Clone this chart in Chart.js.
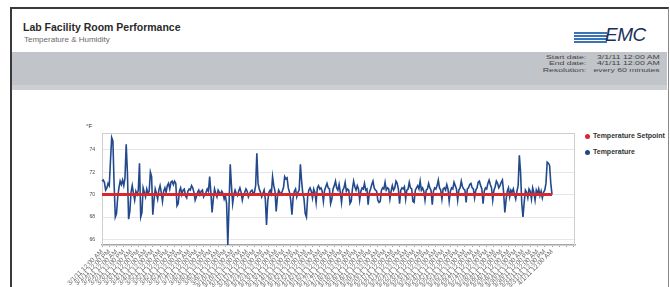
<!DOCTYPE html>
<html>
<head>
<meta charset="utf-8">
<script src="https://cdn.jsdelivr.net/npm/chart.js@4.4.0/dist/chart.umd.min.js"></script>
<style>
  html, body { margin: 0; padding: 0; width: 670px; height: 287px; overflow: hidden; background: #fff; font-family: "Liberation Sans", Arial, sans-serif; }
  #frame { position: absolute; left: 10px; top: 7px; width: 656px; height: 300px; border-top: 2px solid #3a3a3a; border-left: 2px solid #3a3a3a; border-right: 1px solid #8a8a8a; }
  #title { position: absolute; left: 23px; top: 21px; font-size: 10.5px; font-weight: bold; color: #2a2a2a; }
  #subtitle { position: absolute; left: 24px; top: 35px; font-size: 8px; color: #6a6a6a; }
  #band { position: absolute; left: 12px; top: 52px; width: 655px; height: 33px; background: #c1c5c9; }
  #band2 { position: absolute; left: 12px; top: 85px; width: 655px; height: 5px; background: #cdd0d3; }
  #meta { position: absolute; right: 10px; top: 54px; font-size: 6px; color: #444; line-height: 6.3px; transform: scaleX(1.45); transform-origin: right top; }
  #meta td { padding: 0 0 0 5px; white-space: nowrap; text-align: right; }
  #logo { position: absolute; left: 574px; top: 27px; width: 80px; height: 18px; }
  .stripe { position: absolute; left: 0; height: 2px; width: 33px; background: #3a74b4; }
  #emc { position: absolute; left: 31px; top: -3px; font-size: 19px; font-style: italic; color: #1c2f5c; letter-spacing: -0.5px; }
  #unit { position: absolute; left: 86px; top: 123px; font-size: 6px; color: #333; }
  #legend { position: absolute; left: 584px; top: 132px; font-size: 7px; font-weight: bold; color: #333; }
  .li { position: relative; height: 16px; padding-left: 9px; line-height: 8px; white-space: nowrap; }
  .dot { position: absolute; left: 1px; top: 2px; width: 5px; height: 5px; border-radius: 50%; }
  #cv { position: absolute; left: 0; top: 100px; }
</style>
</head>
<body>
<div id="frame"></div>
<div id="title">Lab Facility Room Performance</div>
<div id="subtitle">Temperature &amp; Humidity</div>
<div id="logo">
  <div class="stripe" style="top:5px"></div>
  <div class="stripe" style="top:8px"></div>
  <div class="stripe" style="top:11px"></div>
  <div class="stripe" style="top:14px"></div>
  <div id="emc">EMC</div>
</div>
<div id="band"></div>
<div id="band2"></div>
<table id="meta" cellspacing="0" cellpadding="0">
  <tr><td>Start date:</td><td>3/1/11 12:00 AM</td></tr>
  <tr><td>End date:</td><td>4/1/11 12:00 AM</td></tr>
  <tr><td>Resolution:</td><td>every 60 minutes</td></tr>
</table>
<div id="unit">°F</div>
<div id="legend">
  <div class="li"><span class="dot" style="background:#d9272e"></span>Temperature Setpoint</div>
  <div class="li"><span class="dot" style="background:#1f4585"></span>Temperature</div>
</div>
<canvas id="cv" width="670" height="200"></canvas>
<script>
// Temperature readings (°F), one value every 2 hours, 3/1/11 - 4/1/11
const temperature = [
  71.2, 71.3, 71.1, 70.4, 70.6, 71.0, 70.8, 73.0, 75.1, 74.8,
  71.0, 68.0, 68.3, 69.8, 70.6, 71.2, 70.9, 71.3, 70.8, 71.5,
  74.5, 72.0, 67.8, 68.5, 70.2, 70.8, 70.1, 69.5, 70.3, 70.0,
  70.4, 72.8, 68.0, 68.4, 70.6, 70.2, 69.8, 70.5, 70.1, 70.3,
  72.0, 71.6, 68.2, 69.5, 70.5, 70.1, 69.6, 70.4, 70.8, 70.2,
  69.4, 70.3, 70.6, 70.2, 70.8, 71.0, 70.5, 71.1, 71.2, 70.9,
  71.2, 71.0, 69.0, 69.2, 70.3, 70.6, 70.0, 70.4, 70.5, 69.9,
  69.7, 70.3, 70.5, 70.4, 70.8, 70.6, 70.2, 69.5, 69.8, 70.2,
  70.4, 70.0, 70.3, 70.4, 69.8, 70.0, 70.2, 70.5, 70.3, 71.6,
  70.2, 68.4, 69.6, 70.5, 70.1, 69.8, 70.4, 70.2, 70.0, 70.3,
  70.1, 69.6, 69.9, 69.2, 65.5, 69.0, 72.7, 70.8, 69.2, 70.0,
  70.4, 70.1, 69.9, 70.3, 70.6, 70.2, 69.5, 70.0, 70.2, 70.5,
  70.3, 69.8, 70.1, 70.3, 70.4, 70.1, 70.2, 70.8, 73.7, 71.0,
  70.5, 70.2, 69.8, 70.1, 70.4, 69.6, 67.3, 69.4, 70.2, 70.4,
  70.1, 71.6, 70.8, 70.3, 68.5, 69.8, 70.4, 70.2, 70.0, 70.3,
  70.6, 71.6, 71.4, 71.5, 70.6, 70.2, 69.5, 68.2, 69.7, 70.3,
  70.5, 69.8, 70.2, 70.4, 72.7, 71.2, 70.1, 69.6, 68.3, 68.0,
  69.8, 70.4, 70.6, 70.3, 69.7, 70.5, 70.2, 69.3, 70.6, 70.8,
  70.5, 70.6, 70.3, 69.4, 70.4, 70.7, 71.0, 70.6, 70.5, 69.2,
  69.6, 70.5, 70.8, 71.2, 70.6, 70.4, 70.9, 70.2, 69.3, 70.4,
  70.6, 71.1, 70.3, 70.5, 70.4, 69.2, 69.4, 70.5, 71.2, 70.7,
  70.4, 70.8, 70.5, 69.5, 70.3, 70.6, 70.5, 71.0, 70.4, 70.5,
  69.1, 70.2, 70.5, 70.9, 71.2, 70.6, 70.4, 70.3, 69.5, 69.3,
  69.4, 70.4, 70.6, 70.5, 71.1, 70.4, 70.6, 70.5, 69.6, 70.3,
  70.8, 70.4, 70.6, 71.2, 71.0, 70.5, 69.2, 70.4, 70.6, 70.5,
  70.7, 69.6, 70.4, 70.5, 71.1, 70.6, 70.5, 69.4, 69.3, 70.4,
  70.6, 70.8, 70.5, 71.2, 70.4, 70.6, 70.3, 69.5, 70.4, 70.5,
  71.0, 70.6, 70.4, 69.1, 70.3, 70.6, 70.5, 70.8, 71.3, 70.6,
  70.4, 69.6, 70.5, 70.6, 70.4, 70.9, 70.5, 69.4, 70.3, 70.6,
  70.5, 71.1, 70.8, 70.5, 69.5, 70.4, 70.6, 71.2, 70.7, 70.5,
  70.4, 69.3, 70.5, 70.6, 70.9, 71.0, 70.6, 70.5, 69.7, 70.4,
  70.6, 71.1, 71.2, 70.8, 70.5, 69.2, 70.3, 70.6, 70.5, 71.0,
  71.3, 70.9, 70.6, 69.5, 70.4, 70.7, 71.2, 71.0, 70.6, 70.8,
  71.1, 71.3, 70.2, 68.4, 69.5, 70.3, 70.6, 69.8, 70.4, 70.2,
  70.5, 70.0, 69.6, 70.3, 70.8, 73.5, 72.0, 69.2, 68.0, 69.3,
  70.4, 70.2, 69.7, 70.5, 70.3, 69.6, 70.6, 70.2, 69.5, 70.4,
  70.1, 70.5, 69.9, 70.3, 69.7, 70.2, 70.4, 71.0, 72.9, 72.8,
  72.6, 71.0, 70.0
];
// Setpoint (°F) at the first and last reading
const setpoint = [70, 70];
// X tick labels, one every 12 hours (every 6th reading)
const tickLabels = [
  "3/1/11 12:00 AM","3/1/11 12:00 PM","3/2/11 12:00 AM","3/2/11 12:00 PM","3/3/11 12:00 AM","3/3/11 12:00 PM",
  "3/4/11 12:00 AM","3/4/11 12:00 PM","3/5/11 12:00 AM","3/5/11 12:00 PM","3/6/11 12:00 AM","3/6/11 12:00 PM",
  "3/7/11 12:00 AM","3/7/11 12:00 PM","3/8/11 12:00 AM","3/8/11 12:00 PM","3/9/11 12:00 AM","3/9/11 12:00 PM",
  "3/10/11 12:00 AM","3/10/11 12:00 PM","3/11/11 12:00 AM","3/11/11 12:00 PM","3/12/11 12:00 AM","3/12/11 12:00 PM",
  "3/13/11 12:00 AM","3/13/11 12:00 PM","3/14/11 12:00 AM","3/14/11 12:00 PM","3/15/11 12:00 AM","3/15/11 12:00 PM",
  "3/16/11 12:00 AM","3/16/11 12:00 PM","3/17/11 12:00 AM","3/17/11 12:00 PM","3/18/11 12:00 AM","3/18/11 12:00 PM",
  "3/19/11 12:00 AM","3/19/11 12:00 PM","3/20/11 12:00 AM","3/20/11 12:00 PM","3/21/11 12:00 AM","3/21/11 12:00 PM",
  "3/22/11 12:00 AM","3/22/11 12:00 PM","3/23/11 12:00 AM","3/23/11 12:00 PM","3/24/11 12:00 AM","3/24/11 12:00 PM",
  "3/25/11 12:00 AM","3/25/11 12:00 PM","3/26/11 12:00 AM","3/26/11 12:00 PM","3/27/11 12:00 AM","3/27/11 12:00 PM",
  "3/28/11 12:00 AM","3/28/11 12:00 PM","3/29/11 12:00 AM","3/29/11 12:00 PM","3/30/11 12:00 AM","3/30/11 12:00 PM",
  "3/31/11 12:00 AM","3/31/11 12:00 PM","4/1/11 12:00 AM"
];
const yTicks = [66, 68, 70, 72, 74];
const readingsPerLabel = 6;
const extraSlots = 19; // empty room at the right of the plot

const cats = Array.from({length: temperature.length + extraSlots}, (_, i) => i);

const boxPlugin = {
  id: 'box',
  beforeDatasetsDraw(chart) {
    const {ctx, chartArea: a} = chart;
    ctx.save();
    ctx.strokeStyle = '#cfcfcf';
    ctx.lineWidth = 1;
    ctx.strokeRect(a.left + 0.5, a.top + 0.5, a.right - a.left - 1, a.bottom - a.top);
    ctx.restore();
  }
};

new Chart(document.getElementById('cv'), {
  type: 'line',
  data: {
    labels: cats,
    datasets: [
      {
        label: 'Temperature Setpoint',
        data: [{x: 0, y: setpoint[0]}, {x: temperature.length - 1, y: setpoint[1]}],
        borderColor: '#d9272e',
        borderWidth: 3,
        pointRadius: 0,
        tension: 0
      },
      {
        label: 'Temperature',
        data: temperature,
        borderColor: '#21498c',
        borderWidth: 1.6,
        pointRadius: 0,
        tension: 0
      }
    ]
  },
  options: {
    responsive: false,
    animation: false,
    devicePixelRatio: 1,
    layout: { padding: { left: 0, top: 33, right: 95, bottom: 0 } },
    plugins: { legend: { display: false }, tooltip: { enabled: false } },
    scales: {
      x: {
        type: 'category',
        offset: false,
        afterFit(s) { s.height = 55; },
        grid: {
          drawOnChartArea: false, drawTicks: true, tickLength: 2,
          color: (c) => (c.index % readingsPerLabel === 0 ? '#a0a0a0' : 'rgba(0,0,0,0)')
        },
        border: { color: '#a8a8a8', width: 1.5 },
        ticks: {
          autoSkip: false,
          minRotation: 45,
          maxRotation: 45,
          padding: 1,
          color: '#666',
          font: { size: 6.5, family: 'Liberation Sans' },
          callback(v, idx) {
            return idx % readingsPerLabel === 0 ? (tickLabels[idx / readingsPerLabel] || '') : '';
          }
        }
      },
      y: {
        min: 65.5,
        max: 75.5,
        afterFit(s) { s.width = 102; },
        afterBuildTicks(s) { s.ticks = yTicks.map(v => ({value: v})); },
        grid: { drawTicks: false, color: '#e6e6e6', lineWidth: 1 },
        border: { display: false },
        ticks: {
          padding: 7,
          color: '#444',
          font: { size: 5, family: 'Liberation Sans' }
        }
      }
    }
  },
  plugins: [boxPlugin]
});
</script>
</body>
</html>
